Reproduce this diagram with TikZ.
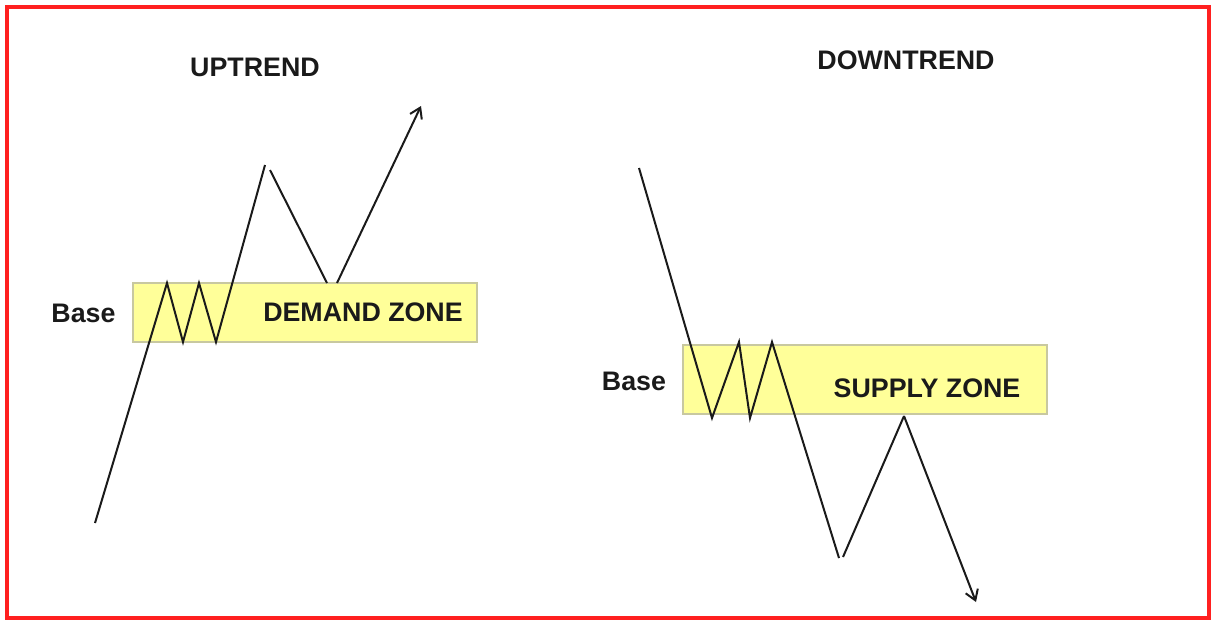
\documentclass[tikz,border=0pt]{standalone}
\usepackage{fontspec}
\setmainfont{Liberation Sans}
\usetikzlibrary{arrows.meta}
\definecolor{frame}{HTML}{FF2020}
\definecolor{zonefill}{HTML}{FFFF99}
\definecolor{zoneedge}{HTML}{C8C8A0}
\definecolor{ink}{HTML}{1A1A1A}

\begin{document}
\begin{tikzpicture}[
  x=0.5pt, y=-0.5pt,
  >={Straight Barb[length=5pt,width=6.5pt]},
  price/.style={draw=ink, line width=1pt, line join=miter},
  zone/.style={draw=zoneedge, fill=zonefill, line width=0.9pt,
               inner sep=0pt},
  title/.style={font=\bfseries\fontsize{13.4}{16}\selectfont, text=ink,
                inner sep=0pt},
]
\useasboundingbox (0,0) rectangle (1213,623);
% --- outer frame ---
\draw[frame, line width=1.8pt] (7,7) rectangle (1209,618);

% --- zones ---
\node[zone, minimum width=172pt, minimum height=29.5pt] (demand) at (305,312.5) {};
\node[zone, minimum width=182pt, minimum height=34.5pt] (supply) at (865,379.5) {};

% --- labels ---
\node[title] (up)    at (255,67)    {UPTREND};
\node[title] (down)  at (906,60)    {DOWNTREND};
\node[title] (dz)    at (363,312.5) {DEMAND ZONE};
\node[title] (sz)    at (927,388.5) {SUPPLY ZONE};
\node[title] (baseu) at (83.5,313.5) {Base};
\node[title] (based) at (634,381)   {Base};

% --- uptrend path ---
\draw[price] (95,523) -- (167,283) -- (183,342) -- (199,283) -- (216,342) -- (265,165);
\draw[price] (270,170) -- (327,283);
\draw[price, ->] (337,283) -- (421,106);

% --- downtrend path ---
\draw[price] (639,168) -- (712,418) -- (739,342) -- (750,418) -- (772,342) -- (839,558);
\draw[price] (843,557) -- (904,416);
\draw[price, ->] (904,416) -- (976,602);
\end{tikzpicture}
\end{document}
